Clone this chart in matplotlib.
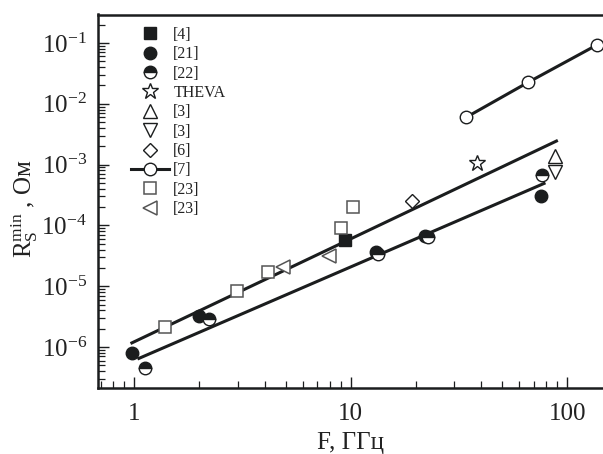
import numpy as np
import matplotlib

matplotlib.use("Agg")
import matplotlib.pyplot as plt
from matplotlib import ticker

plt.rcParams["font.family"] = ["Liberation Serif", "DejaVu Serif"]
plt.rcParams["mathtext.fontset"] = "custom"
plt.rcParams["mathtext.rm"] = "Liberation Serif"
plt.rcParams["mathtext.it"] = "Liberation Serif:italic"

INK = "#1b1d1e"

# frequencies (GHz) and surface resistance (Ohm)
f_ref4 = [9.4]
r_ref4 = [5.7e-5]

f_ref21 = [0.98, 1.98, 13.0, 22.0, 75.5]
r_ref21 = [7.9e-7, 3.2e-6, 3.6e-5, 6.8e-5, 3.05e-4]

f_ref22 = [1.12, 2.22, 13.3, 22.6, 76.0]
r_ref22 = [4.5e-7, 2.9e-6, 3.4e-5, 6.5e-5, 6.7e-4]

f_theva = [38.3]
r_theva = [1.05e-3]

f_ref3_up = [88.0]
r_ref3_up = [1.4e-3]
f_ref3_dn = [88.0]
r_ref3_dn = [7.7e-4]

f_ref6 = [19.1]
r_ref6 = [2.55e-4]

f_ref7 = [34.1, 65.8, 137.0]
r_ref7 = [6.0e-3, 2.25e-2, 9.3e-2]

f_ref23_sq = [1.38, 2.97, 4.16, 9.0, 10.2]
r_ref23_sq = [2.1e-6, 8.3e-6, 1.7e-5, 9.1e-5, 2.0e-4]

f_ref23_lt = [4.86, 7.94]
r_ref23_lt = [2.1e-5, 3.1e-5]

# fitted trend lines (end points)
f_fit_upper = [0.975, 89.0]
r_fit_upper = [1.17e-6, 2.44e-3]
f_fit_lower = [1.05, 78.0]
r_fit_lower = [6.5e-7, 4.9e-4]

x_ticks = [1, 10, 100]
y_ticks = [1e-6, 1e-5, 1e-4, 1e-3, 1e-2, 1e-1]

fig = plt.figure(figsize=(6.03, 4.54), dpi=100)
ax = fig.add_axes([98 / 603, 1 - 388 / 454, 1 - 98 / 603, (388 - 14.5) / 454])
ax.set_xscale("log")
ax.set_yscale("log")

ax.plot(f_fit_upper, r_fit_upper, color=INK, lw=2.2, zorder=2)
ax.plot(f_fit_lower, r_fit_lower, color=INK, lw=2.2, zorder=2)

ms = 9.0
common = dict(linestyle="none", markeredgecolor=INK, markeredgewidth=1.0, zorder=3)
grey = dict(linestyle="none", markeredgecolor="#555555", markeredgewidth=1.1,
            markerfacecolor="white", zorder=3)

h4, = ax.plot(f_ref4, r_ref4, marker="s", ms=ms * 0.95, markerfacecolor=INK, label="[4]", **common)
h21, = ax.plot(f_ref21, r_ref21, marker="o", ms=ms, markerfacecolor=INK, label="[21]", **common)
h22, = ax.plot(f_ref22, r_ref22, marker="o", ms=ms, fillstyle="top", markerfacecolor=INK,
               markerfacecoloralt="white", label="[22]", **common)
hth, = ax.plot(f_theva, r_theva, marker="*", ms=ms * 1.35, markerfacecolor="white",
               label="THEVA", **common)
h3u, = ax.plot(f_ref3_up, r_ref3_up, marker="^", ms=ms * 1.05, markerfacecolor="white",
               label="[3]", **common)
h3d, = ax.plot(f_ref3_dn, r_ref3_dn, marker="v", ms=ms * 1.05, markerfacecolor="white",
               label="[3]", **common)
h6, = ax.plot(f_ref6, r_ref6, marker="D", ms=ms * 0.8, markerfacecolor="white",
              label="[6]", **common)
h7, = ax.plot(f_ref7, r_ref7, marker="o", ms=ms, color=INK, lw=2.2, markerfacecolor="white",
              markeredgecolor=INK, markeredgewidth=1.0, label="[7]", zorder=3)
h23s, = ax.plot(f_ref23_sq, r_ref23_sq, marker="s", ms=ms * 0.95, label="[23]", **grey)
h23t, = ax.plot(f_ref23_lt, r_ref23_lt, marker="<", ms=ms * 1.05, label="[23]", **grey)

ax.set_xlim(0.68, 146)
ax.set_ylim(2.12e-7, 0.294)
ax.set_xticks(x_ticks)
ax.set_yticks(y_ticks)

ax.spines["right"].set_visible(False)
for side in ("left", "bottom", "top"):
    ax.spines[side].set_linewidth(1.8)
    ax.spines[side].set_color(INK)

ax.tick_params(which="both", direction="in", top=False, right=False, color=INK,
               labelsize=18, labelcolor="#222")
ax.tick_params(which="major", length=8, width=1.0)
ax.tick_params(axis="x", which="major", pad=11)
ax.tick_params(axis="y", which="major", pad=8)
ax.tick_params(which="minor", length=5, width=0.9)
ax.xaxis.set_major_formatter(ticker.FuncFormatter(lambda v, p: f"{v:g}"))
ax.xaxis.set_minor_formatter(ticker.NullFormatter())
ax.yaxis.set_minor_formatter(ticker.NullFormatter())

ax.set_xlabel("F, ГГц", fontsize=18, color="#222", labelpad=5)
ax.set_ylabel(r"$\mathrm{R}_{\mathrm{S}}^{\mathrm{min}}$ , Ом", fontsize=18, color="#222")
ax.yaxis.set_label_coords(-0.115, 0.48)

leg = ax.legend(handles=[h4, h21, h22, hth, h3u, h3d, h6, h7, h23s, h23t],
                loc="upper left", bbox_to_anchor=(123 / 603, 1 - 19 / 454),
                bbox_transform=fig.transFigure, frameon=False, fontsize=11.5,
                borderpad=0, labelspacing=0.21, handlelength=2.4, handletextpad=0.25,
                numpoints=1)
for t in leg.get_texts():
    t.set_color("#222")

fig.savefig("out.png", dpi=100)
